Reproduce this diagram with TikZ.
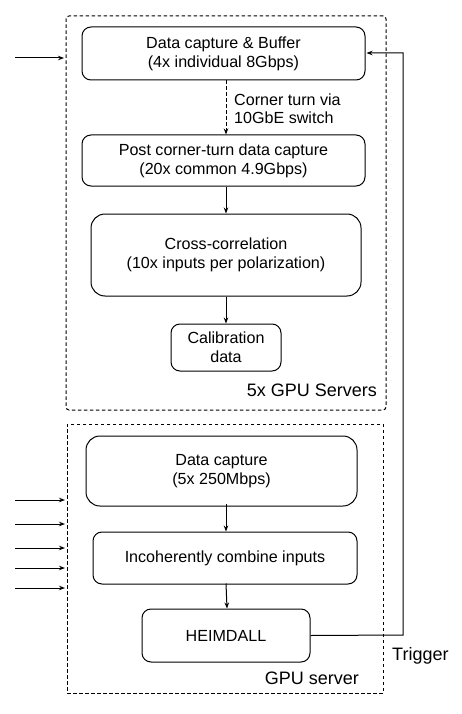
\documentclass[tikz,border=0pt]{standalone}
\usepackage{fontspec}
\setmainfont{Liberation Sans}
\usetikzlibrary{arrows.meta}
\begin{document}
\begin{tikzpicture}[x=1pt,y=-1pt,
  box/.style={draw,line width=1pt,rounded corners=9pt,inner sep=0pt,align=center,
    font=\fontsize{16.1}{19}\selectfont},
  container/.style={draw,line width=1pt,dash pattern=on 3.5pt off 2.5pt,inner sep=0pt},
  lbl/.style={inner sep=0pt,font=\fontsize{18}{21}\selectfont},
  arr/.style={line width=1pt,-{Stealth[length=6pt,width=4.5pt]}}]
\useasboundingbox (0,0) rectangle (462,714);
% containers
\node[container,rounded corners=3pt,minimum width=320pt,minimum height=394pt] (top) at (226,213) {};
\node[container,minimum width=316pt,minimum height=269pt] (bot) at (225,558.5) {};
% boxes
\node[box,minimum width=283pt,minimum height=53pt] (b1) at (223.5,53.5) {Data capture \& Buffer\\(4x individual 8Gbps)};
\node[box,minimum width=283pt,minimum height=51pt] (b2) at (223.5,160.5) {Post corner-turn data capture\\(20x common 4.9Gbps)};
\node[box,rounded corners=14pt,minimum width=270pt,minimum height=82pt] (b3) at (226,255) {Cross-correlation\\(10x inputs per polarization)};
\node[box,minimum width=110pt,minimum height=47pt] (b4) at (226,347.5) {Calibration\\data};
\node[box,rounded corners=14pt,minimum width=271pt,minimum height=70pt] (b5) at (221.5,471) {Data capture\\(5x 250Mbps)};
\node[box,minimum width=264pt,minimum height=52pt] (b6) at (225,558) {Incoherently combine inputs};
\node[box,minimum width=168pt,minimum height=53pt] (b7) at (226,635.5) {HEIMDALL};
% labels
\node[lbl,anchor=east] (l1) at (377,390) {5x GPU Servers};
\node[lbl,anchor=east] (l2) at (359,678) {GPU server};
\node[lbl,anchor=west] (l3) at (392,656) {Trigger};
\node[inner sep=0pt,anchor=west,align=left,font=\fontsize{16.1}{18}\selectfont] (ct) at (234,108.5) {Corner turn via\\10GbE switch};
% vertical arrows
\draw[arr,dash pattern=on 3.5pt off 2.5pt] (b1.south -| b3.north) -- (b2.north -| b3.north);
\draw[arr] (b2.south -| b3.north) -- (b3.north);
\draw[arr] (b3.south) -- (b4.north);
\draw[arr] ([yshift=3pt]b5.south -| b3.north) -- (b6.north -| b3.north);
\draw[arr] ([yshift=1pt]b6.south -| b3.north) -- ([xshift=1pt]b7.north);
% inputs
\coordinate (i0) at (15,58);
\draw[arr] (i0) -- ([xshift=-1.5pt]top.west |- i0);
\foreach \y [count=\k] in {500,524,548,568,588}{
  \coordinate (j\k) at (15,\y);
  \draw[arr] (j\k) -- ([xshift=-1.5pt]bot.west |- j\k);
}
% trigger
\coordinate (t1) at (403,635);
\coordinate (t2) at (403,53);
\draw[arr] (b7.east) -- (t1) -- (t2) -- ([xshift=1pt]b1.east |- t2);
\end{tikzpicture}
\end{document}
